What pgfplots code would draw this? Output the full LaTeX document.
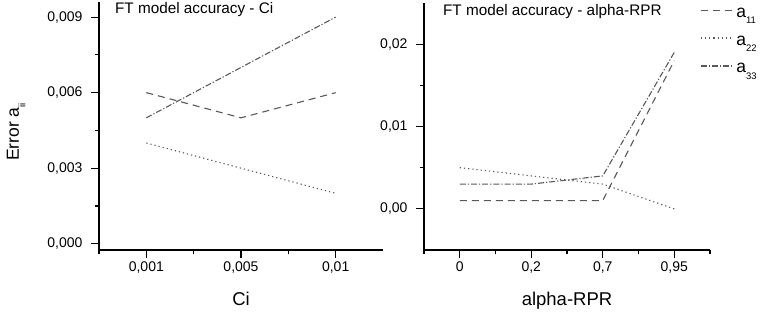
\documentclass[border=0pt]{standalone}
\usepackage{fontspec}
\setmainfont{Liberation Sans}
\usepackage{pgfplots}
\pgfplotsset{compat=1.18}
\pgfplotsset{
 base/.style={
  scale only axis, axis x line*=bottom, axis y line*=left,
  axis line style={line width=1.4pt, black},
  tick align=outside, major tick length=8pt, minor tick length=4.5pt,
  every tick/.style={black, line width=1.2pt},
  tick label style={font=\fontsize{14}{14}\selectfont},
  yticklabel style={xshift=-5pt},
  /pgf/number format/assume math mode=true,
  scaled x ticks=false, scaled y ticks=false,
  x label style={font=\fontsize{18.5}{18.5}\selectfont, at={(axis description cs:0.5,-0.225)}, anchor=base},
  every axis title shift=0pt,
  title style={font=\fontsize{15.3}{15.3}\selectfont, anchor=base west, inner sep=0pt},
 },
 sA/.style={black!65, line width=1.1pt, dash pattern=on 7pt off 5pt},
 sB/.style={black!65, line width=1.1pt, dash pattern=on 1.2pt off 3pt},
 sC/.style={black!65, line width=1.1pt, dash pattern=on 6pt off 2pt on 1.2pt off 2pt},
}
\newcommand{\sub}[1]{\raisebox{-6.5pt}[0pt][0pt]{\fontsize{9.5}{9.5}\selectfont #1}}
\newcommand{\leg}[1]{\fontsize{17.5}{17.5}\selectfont a\sub{#1}}
\begin{document}
\begin{tikzpicture}
\useasboundingbox (0pt,0pt) rectangle (768pt,312pt);
\begin{axis}[base, at={(99pt,62pt)}, anchor=south west, width=284pt, height=248pt,
 xmin=-0.5, xmax=2.5, ymin=-0.00025, ymax=0.0096,
 xtick={0,1,2}, xticklabels={{0,001},{0,005},{0,01}}, minor xtick={-0.5,0.5,1.5},
 ytick={0,0.003,0.006,0.009}, yticklabels={{0,000},{0,003},{0,006},{0,009}},
 minor ytick={0.0015,0.0045,0.0075},
 xlabel={Ci}, ylabel={Error a\sub{ii}},
 y label style={font=\fontsize{17.5}{17.5}\selectfont, at={(axis description cs:-0.303,0.476)}, anchor=center},
 title={FT model accuracy - Ci}, title style={at={(axis description cs:0.056,0.952)}},
]
\addplot[sA] coordinates {(0,0.006) (1,0.005) (2,0.006)};
\addplot[sB] coordinates {(0,0.004) (1,0.003) (2,0.002)};
\addplot[sC] coordinates {(0,0.005) (1,0.007) (2,0.009)};
\end{axis}
\begin{axis}[base, at={(424pt,62pt)}, anchor=south west, width=286pt, height=247pt,
 xmin=-0.5, xmax=3.5, ymin=-0.005, ymax=0.025,
 xtick={0,1,2,3}, xticklabels={{0},{0,2},{0,7},{0,95}}, minor xtick={-0.5,0.5,1.5,2.5,3.5},
 ytick={0,0.01,0.02}, yticklabels={{0,00},{0,01},{0,02}},
 minor ytick={0.005,0.015},
 xlabel={alpha-RPR},
 title={FT model accuracy - alpha-RPR}, title style={at={(axis description cs:0.066,0.951)}},
 legend style={at={(axis description cs:0.965,0.99)}, anchor=north west, draw=none, fill=none,
   row sep=13pt, inner sep=0pt},
 legend cell align=left,
 legend image code/.code={\draw[#1] (0pt,3pt) -- (33pt,3pt);},
]
\addplot[sA] coordinates {(0,0.001) (1,0.001) (2,0.001) (3,0.018)};
\addlegendentry{\leg{11}}
\addplot[sB] coordinates {(0,0.005) (1,0.004) (2,0.003) (3,0.000)};
\addlegendentry{\leg{22}}
\addplot[sC] coordinates {(0,0.003) (1,0.003) (2,0.004) (3,0.019)};
\addlegendentry{\leg{33}}
\end{axis}
\end{tikzpicture}
\end{document}
